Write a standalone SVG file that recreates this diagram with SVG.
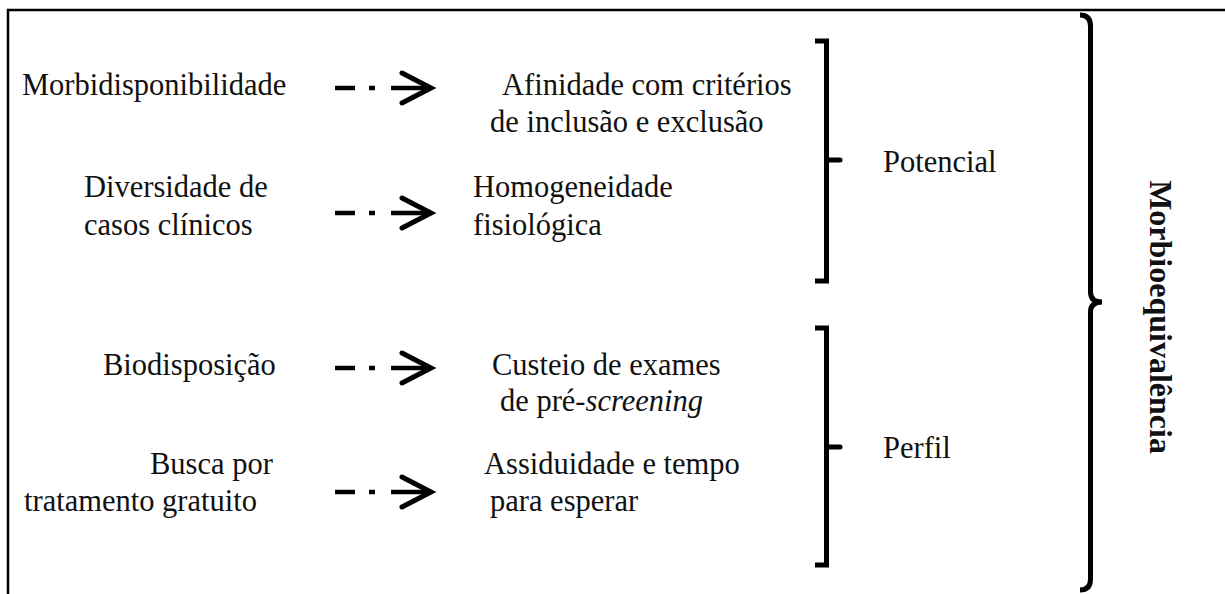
<svg xmlns="http://www.w3.org/2000/svg" xmlns:xlink="http://www.w3.org/1999/xlink" width="1225" height="594" viewBox="0 0 1225 594">
<style>
  text { font-family: "Liberation Serif", "Times New Roman", serif; font-size: 30.5px; fill: #111; }
  .bold { font-weight: bold; font-size: 32px; }
  .frame { stroke: #000; stroke-width: 2.5; fill: none; }
  .br { stroke: #000; stroke-width: 5; fill: none; stroke-linejoin: miter; }
  .ar { stroke: #000; stroke-width: 4.5; fill: none; }
  .chev { stroke: #000; stroke-width: 5; fill: none; stroke-linecap: round; stroke-linejoin: miter; }
</style>
<defs>
  <g id="arrow">
    <line class="ar" x1="335" y1="0" x2="355" y2="0"/>
    <line class="ar" x1="369" y1="0" x2="375" y2="0"/>
    <line class="ar" x1="391" y1="0" x2="428" y2="0"/>
    <polyline class="chev" points="402,-15 431,0 402,15"/>
  </g>
</defs>
<rect width="1225" height="594" fill="#fff"/>
<g id="frame">
  <polyline class="frame" points="8,594 8,10 1225,10"/>
</g>
<g id="connectors">
  <use xlink:href="#arrow" href="#arrow" transform="translate(0,88)"/>
  <use xlink:href="#arrow" href="#arrow" transform="translate(0,213)"/>
  <use xlink:href="#arrow" href="#arrow" transform="translate(0,368)"/>
  <use xlink:href="#arrow" href="#arrow" transform="translate(0,492)"/>
</g>
<g id="n-morbidisponibilidade"><text x="22" y="95">Morbidisponibilidade</text></g>
<g id="n-diversidade"><text x="84" y="197">Diversidade de</text><text x="84" y="235">casos clínicos</text></g>
<g id="n-biodisposicao"><text x="103" y="375">Biodisposição</text></g>
<g id="n-busca"><text x="150" y="474">Busca por</text><text x="24" y="511">tratamento gratuito</text></g>
<g id="n-afinidade"><text x="502" y="95">Afinidade com critérios</text><text x="490" y="132">de inclusão e exclusão</text></g>
<g id="n-homogeneidade"><text x="473" y="197">Homogeneidade</text><text x="473" y="235">fisiológica</text></g>
<g id="n-custeio"><text x="492" y="375">Custeio de exames</text><text x="500" y="411">de pré-<tspan font-style="italic">screening</tspan></text></g>
<g id="n-assiduidade"><text x="484" y="474">Assiduidade e tempo</text><text x="490" y="511">para esperar</text></g>
<g id="n-potencial">
  <polyline class="br" points="815,41 826.5,41 826.5,281 815,281"/>
  <line class="br" x1="826.5" y1="160" x2="840" y2="160" stroke-linecap="round"/>
  <text x="883" y="172">Potencial</text>
</g>
<g id="n-perfil">
  <polyline class="br" points="815,328 826.5,328 826.5,565 815,565"/>
  <line class="br" x1="826.5" y1="447" x2="840" y2="447" stroke-linecap="round"/>
  <text x="883" y="458">Perfil</text>
</g>
<g id="n-morbioequivalencia">
  <path class="br" stroke-width="4.5" d="M1080,15 Q1090.5,15 1090.5,26 L1090.5,292 Q1090.5,302 1102,302 Q1090.5,302 1090.5,312 L1090.5,579 Q1090.5,590 1080,590"/>
  <text class="bold" transform="translate(1150,317) rotate(90)" text-anchor="middle">Morbioequivalência</text>
</g>
</svg>
